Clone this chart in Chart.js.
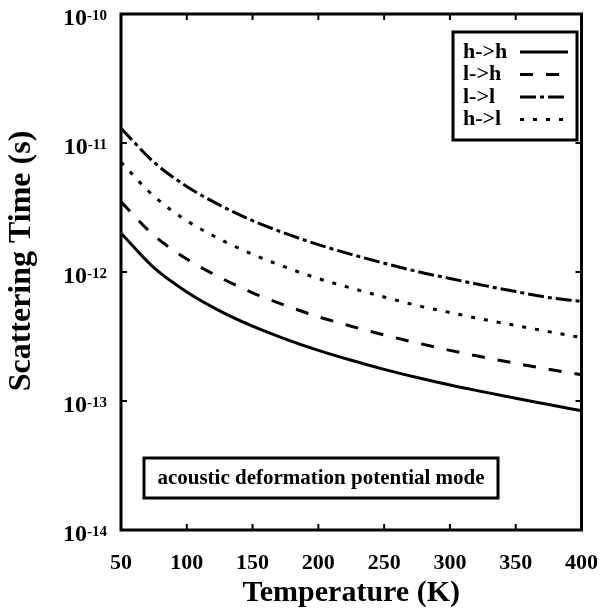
<!DOCTYPE html>
<html><head><meta charset="utf-8">
<script src="https://cdn.jsdelivr.net/npm/chart.js@4/dist/chart.umd.min.js"></script>
<style>html,body{margin:0;padding:0;background:#fff}</style>
</head><body>
<canvas id="c" width="610" height="610"></canvas>
<script>
const temperatures = [50,75,100,125,150,175,200,225,250,275,300,325,350,375,400];
const tauHH = [2.0e-12,1.08e-12,7.0e-13,5.0e-13,3.8e-13,3.02e-13,2.47e-13,2.07e-13,1.76e-13,1.52e-13,1.33e-13,1.18e-13,1.05e-13,9.4e-14,8.4e-14];
const tauLH = [3.5e-12,1.92e-12,1.26e-12,9.1e-13,6.9e-13,5.5e-13,4.5e-13,3.8e-13,3.25e-13,2.82e-13,2.47e-13,2.19e-13,1.96e-13,1.76e-13,1.6e-13];
const tauLL = [1.3e-11,7.1e-12,4.6e-12,3.3e-12,2.5e-12,1.99e-12,1.63e-12,1.37e-12,1.17e-12,1.01e-12,8.9e-13,7.9e-13,7.05e-13,6.35e-13,5.9e-13];
const tauHL = [7.1e-12,3.87e-12,2.5e-12,1.8e-12,1.37e-12,1.09e-12,8.9e-13,7.5e-13,6.4e-13,5.5e-13,4.85e-13,4.3e-13,3.85e-13,3.45e-13,3.1e-13];
const seriesLabels = ['h->h','l->h','l->l','h->l'];
const yTickValues = [1e-14,1e-13,1e-12,1e-11,1e-10];
const yTitle = 'Scattering Time (s)';
const xTitle = 'Temperature (K)';
const annotationText = 'acoustic deformation potential mode';

const F = '"Liberation Serif","Times New Roman","DejaVu Serif",serif';
const dashes = [[], [13,13], [16,4,4,4], [4,9]];
const seriesData = [tauHH, tauLH, tauLL, tauHL];

const datasets = seriesData.map((arr,i)=>({
  label: seriesLabels[i],
  data: temperatures.map((t,j)=>({x:t,y:arr[j]})),
  borderColor:'#000', borderWidth:3, borderDash:dashes[i],
  pointRadius:0, fill:false, cubicInterpolationMode:'monotone', borderCapStyle:'butt'
}));

const deco = {
  id:'deco',
  afterDraw(chart){
    const {ctx, chartArea:a, scales:{x,y}} = chart;
    ctx.save();
    ctx.strokeStyle='#000'; ctx.fillStyle='#000';
    // inward ticks
    ctx.lineWidth=2;
    x.ticks.forEach(t=>{
      const px=x.getPixelForValue(t.value);
      ctx.beginPath();
      ctx.moveTo(px,a.bottom); ctx.lineTo(px,a.bottom-6);
      ctx.moveTo(px,a.top); ctx.lineTo(px,a.top+6);
      ctx.stroke();
    });
    y.ticks.forEach(t=>{
      const py=y.getPixelForValue(t.value);
      ctx.beginPath();
      ctx.moveTo(a.left,py); ctx.lineTo(a.left+6,py);
      ctx.moveTo(a.right,py); ctx.lineTo(a.right-6,py);
      ctx.stroke();
    });
    // frame
    ctx.lineWidth=3;
    ctx.strokeRect(a.left,a.top,a.right-a.left,a.bottom-a.top);
    // y tick labels with superscript exponent
    y.ticks.forEach(t=>{
      const py=y.getPixelForValue(t.value);
      const e=String(Math.round(Math.log10(t.value)));
      ctx.font='bold 24px '+F;
      const w1=ctx.measureText('10').width;
      ctx.font='bold 15px '+F;
      const w2=ctx.measureText(e).width;
      const x0=a.left-14-w1-w2;
      ctx.textBaseline='alphabetic'; ctx.textAlign='left';
      ctx.font='bold 24px '+F;
      ctx.fillText('10',x0,py+11);
      ctx.font='bold 15px '+F;
      ctx.fillText(e,x0+w1,py+6);
    });
    // y axis title
    ctx.save();
    ctx.translate(22, 261);
    ctx.rotate(-Math.PI/2);
    ctx.font='bold 32px '+F; ctx.textAlign='center'; ctx.textBaseline='middle';
    ctx.fillText(yTitle,0,0);
    ctx.restore();
    // legend box
    const lx=453, ly=32, lw=124, lh=108;
    ctx.fillStyle='#fff'; ctx.fillRect(lx,ly,lw,lh);
    ctx.lineWidth=3; ctx.strokeStyle='#000'; ctx.strokeRect(lx,ly,lw,lh);
    ctx.fillStyle='#000';
    ctx.font='bold 22px '+F; ctx.textBaseline='middle'; ctx.textAlign='left';
    chart.data.datasets.forEach((ds,i)=>{
      const ry=ly+20+i*22.5;
      ctx.fillText(ds.label,lx+10,ry);
      ctx.save();
      ctx.lineWidth=3; ctx.setLineDash(ds.borderDash||[]);
      ctx.beginPath(); ctx.moveTo(lx+67,ry); ctx.lineTo(lx+115,ry); ctx.stroke();
      ctx.restore();
    });
    // annotation box
    const bx=144, by=458, bw=354, bh=40;
    ctx.fillStyle='#fff'; ctx.fillRect(bx,by,bw,bh);
    ctx.lineWidth=3; ctx.strokeRect(bx,by,bw,bh);
    ctx.fillStyle='#000'; ctx.font='bold 21px '+F; ctx.textAlign='center'; ctx.textBaseline='middle';
    ctx.fillText(annotationText,bx+bw/2,by+bh/2+1);
    ctx.restore();
  }
};

new Chart(document.getElementById('c'),{
  type:'line',
  data:{datasets},
  options:{
    responsive:false, animation:false, devicePixelRatio:1,
    layout:{padding:{top:14,right:20,left:0,bottom:0}},
    plugins:{legend:{display:false},tooltip:{enabled:false}},
    scales:{
      x:{type:'linear',min:50,max:400,
        grid:{display:false}, border:{display:false},
        ticks:{stepSize:50,color:'#000',font:{family:F,size:22,weight:'bold'},padding:12,maxRotation:0},
        title:{display:true,text:xTitle,color:'#000',font:{family:F,size:30,weight:'bold',lineHeight:1.1},padding:{top:0,bottom:0}},
        afterFit(s){s.height=80;}
      },
      y:{type:'logarithmic',min:1e-14,max:1e-10,
        grid:{display:false}, border:{display:false},
        afterBuildTicks(s){s.ticks=yTickValues.map(v=>({value:v}));},
        ticks:{display:false},
        title:{display:false},
        afterFit(s){s.width=121;}
      }
    }
  },
  plugins:[deco]
});
</script>
</body></html>
